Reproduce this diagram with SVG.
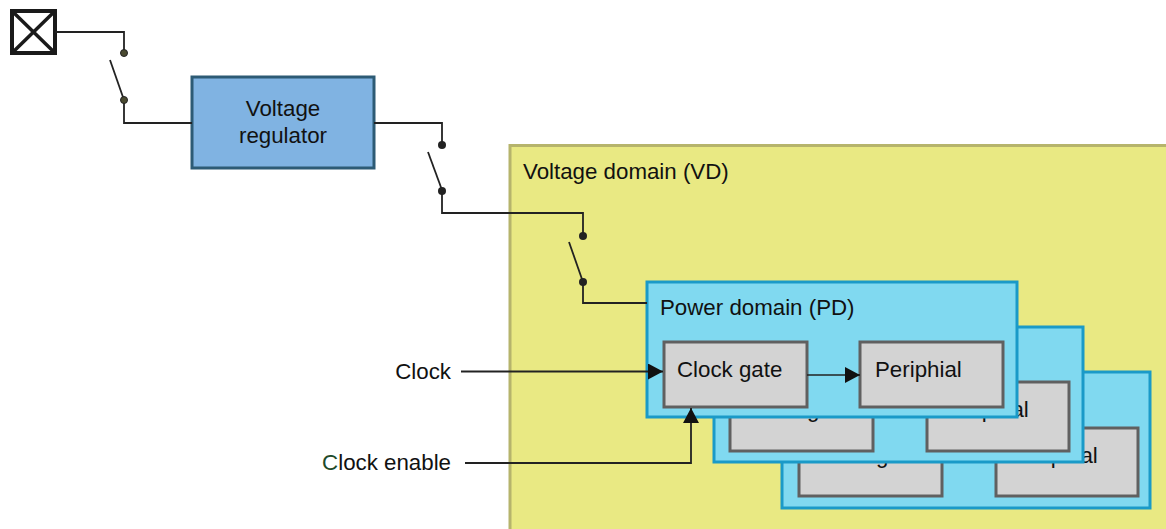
<svg xmlns="http://www.w3.org/2000/svg" width="1166" height="529" viewBox="0 0 1166 529">
<style>
text{font-family:"Liberation Sans",Arial,sans-serif;font-size:22.3px;fill:#111}
.wire{fill:none;stroke:#222;stroke-width:1.8}
.dot{fill:#222}
.pd{fill:#80d9f0;stroke:#1a9ac8;stroke-width:3}
.blk{fill:#d3d3d3;stroke:#606060;stroke-width:3}
</style>
<defs>
<marker id="ah" markerUnits="userSpaceOnUse" markerWidth="16" markerHeight="18" refX="15" refY="8" orient="auto">
<path d="M0,0 L15,8 L0,16 Z" fill="#111"/>
</marker>
</defs>
<rect width="1166" height="529" fill="#fff"/>

<g id="pad">
<rect x="12" y="11" width="43" height="42" fill="#fff" stroke="#1a1a1a" stroke-width="4"/>
<path d="M12,11 L55,53 M55,11 L12,53" stroke="#1a1a1a" stroke-width="3.5"/>
</g>

<g id="vd">
<rect x="510" y="145.5" width="662" height="400" fill="#e9e983" stroke="#b6b46c" stroke-width="3"/>
<text x="523" y="179">Voltage domain (VD)</text>
</g>

<g id="regulator">
<rect x="192" y="77" width="182" height="91" fill="#80b3e2" stroke="#2d5b75" stroke-width="3"/>
<text x="283" y="116" text-anchor="middle">Voltage</text>
<text x="283" y="143" text-anchor="middle">regulator</text>
</g>

<g id="pd3">
<rect class="pd" x="782" y="372" width="368" height="136"/>
<rect class="blk" x="799" y="428" width="143" height="68"/>
<text x="814" y="463">Clock gate</text>
<rect class="blk" x="996" y="428" width="142" height="68"/>
<text x="1011" y="463">Periphial</text>
</g>

<g id="pd2">
<rect class="pd" x="714" y="327" width="369" height="135"/>
<rect class="blk" x="730" y="382" width="143" height="69"/>
<text x="745" y="417">Clock gate</text>
<rect class="blk" x="927" y="382" width="142" height="69"/>
<text x="942" y="417">Periphial</text>
</g>

<g id="pd1">
<rect class="pd" x="647" y="282" width="370" height="135"/>
<text x="660" y="315">Power domain (PD)</text>
</g>

<g id="clockgate">
<rect class="blk" x="664" y="342" width="143" height="65"/>
<text x="677" y="377">Clock gate</text>
</g>

<g id="periphial">
<rect class="blk" x="860" y="342" width="143" height="65"/>
<text x="875" y="377">Periphial</text>
</g>

<g id="labels">
<text x="451" y="379" text-anchor="end">Clock</text>
<text x="451" y="470" text-anchor="end"><tspan fill="#1e4a2a">C</tspan>lock enable</text>
</g>

<g id="connectors">
<path class="wire" d="M55,32 H124 V53"/>
<path class="wire" d="M110,60 L124,100"/>
<path class="wire" d="M124,100 V123 H192"/>
<circle cx="124" cy="53" r="3.5" fill="#4a4a30" stroke="#222" stroke-width="1"/>
<circle cx="124" cy="100" r="3.5" fill="#4a4a30" stroke="#222" stroke-width="1"/>

<path class="wire" d="M374,123 H442 V145"/>
<path class="wire" d="M428,152 L442,190"/>
<path class="wire" d="M442,190 V213 H583 V236"/>
<circle class="dot" cx="442" cy="145" r="4"/>
<circle class="dot" cx="442" cy="191" r="4"/>

<path class="wire" d="M569,242 L583,282"/>
<path class="wire" d="M583,282 V303 H647"/>
<circle class="dot" cx="583" cy="236" r="4"/>
<circle class="dot" cx="583" cy="282" r="4"/>

<path class="wire" d="M461,371.5 H663" marker-end="url(#ah)"/>
<path class="wire" d="M465,463 H691 V408" marker-end="url(#ah)"/>
<path class="wire" style="stroke-width:1.3" d="M807,375 H860" marker-end="url(#ah)"/>
</g>
</svg>
